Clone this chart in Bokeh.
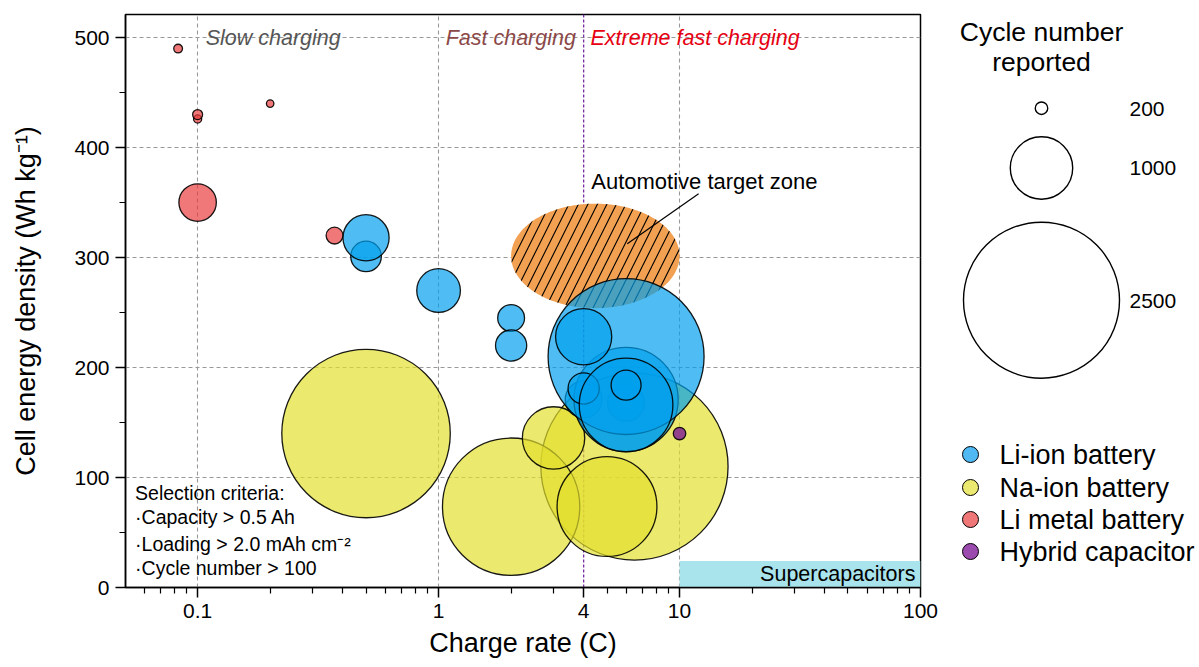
import numpy as np
from bokeh.plotting import figure
from bokeh.layouts import row
from bokeh.models import (Range1d, FixedTicker, CustomJSTickFormatter, Label, Span,
                          ColumnDataSource)
from bokeh.embed import file_html
from bokeh.resources import INLINE

FONT = "Liberation Sans"

# ---------------- data (charge rate C, energy Wh/kg, cycles reported) ----------------
li_ion_rate   = [0.5, 0.5, 1.0, 2.0, 2.0, 4.0, 6.0, 6.0, 6.0, 4.0, 4.0, 6.0, 6.0]
li_ion_energy = [301, 318, 270, 245, 220, 171, 168, 171, 210, 228, 181, 166, 184]
li_ion_cycles = [490, 740, 700, 430, 500, 590, 590, 1670, 2500, 900, 500, 1500, 480]

na_ion_rate   = [6.5, 2.0, 0.5, 3.0, 5.0]
na_ion_energy = [110, 73.5, 140, 136, 73.6]
na_ion_cycles = [3000, 2200, 2700, 1000, 1600]

li_metal_rate   = [0.083, 0.1, 0.1, 0.2, 0.1, 0.37]
li_metal_energy = [490, 426, 430, 440, 350, 320]
li_metal_cycles = [140, 130, 160, 120, 600, 270]

hybrid_rate   = [10.0]
hybrid_energy = [140]
hybrid_cycles = [200]

size_legend_cycles = [200, 1000, 2500]
size_legend_labels = ["200", "1000", "2500"]
category_names = ["Li-ion battery", "Na-ion battery", "Li metal battery", "Hybrid capacitor"]

x_major_ticks = [0.1, 1, 4, 10, 100]
x_minor_ticks = [0.06, 0.07, 0.08, 0.09, 0.2, 0.3, 0.4, 0.5, 0.6, 0.7, 0.8, 0.9,
                 2, 3, 5, 6, 7, 8, 9, 20, 30, 40, 50, 60, 70, 80, 90]
x_grid_ticks = [0.1, 1, 10]
y_major_ticks = [0, 100, 200, 300, 400, 500]
y_minor_ticks = [50, 150, 250, 350, 450]
y_grid_ticks = [100, 200, 300, 400, 500]

fast_limit_rate = 4
target_rate = [2, 10]
target_energy = [254, 349]
supercap_rate = [10, 100]
supercap_energy = [0, 24]

regime_labels = ["Slow charging", "Fast charging", "Extreme fast charging"]
criteria_lines = ["Selection criteria:", "\u00b7Capacity > 0.5 Ah",
                  "\u00b7Loading > 2.0 mAh cm\u207b\u00b2", "\u00b7Cycle number > 100"]

PX_PER_CYCLE = 78.0 / 2500.0   # bubble radius (px) per reported cycle

LI_ION, NA_ION, LI_METAL, HYBRID = "#00a0ee", "#e2df2d", "#e93b3b", "#8e3a8c"
LEG_COLORS = ["#50b9f3", "#ebe970", "#f07777", "#9b4aad"]

W = 1197
H = 665
FRAME_TOP, FRAME_BOTTOM = 14, 587
W1 = 940

# ---------------- main figure ----------------
p = figure(width=W1, height=H, x_axis_type="log",
           x_range=Range1d(0.0502, 100), y_range=Range1d(0, 521),
           output_backend="svg", toolbar_location=None, title=None,
           min_border_left=125, min_border_right=20, min_border_top=FRAME_TOP,
           min_border_bottom=H - FRAME_BOTTOM)
p.background_fill_color = "white"
p.border_fill_color = "white"
p.outline_line_color = "black"
p.outline_line_width = 1.5
p.outline_line_alpha = 1.0

p.xaxis.ticker = FixedTicker(ticks=x_major_ticks, minor_ticks=x_minor_ticks)
p.xaxis.formatter = CustomJSTickFormatter(code="return tick.toString();")
p.yaxis.ticker = FixedTicker(ticks=y_major_ticks, minor_ticks=y_minor_ticks)
for ax in (p.xaxis[0], p.yaxis[0]):
    ax.axis_line_color = "black"
    ax.axis_line_width = 1.5
    ax.major_tick_line_color = "black"
    ax.major_tick_line_width = 1.5
    ax.minor_tick_line_color = "black"
    ax.minor_tick_line_width = 1.2
    ax.major_tick_out = 10
    ax.major_tick_in = 0
    ax.minor_tick_out = 6
    ax.minor_tick_in = 0
    ax.major_label_text_font = FONT
    ax.major_label_text_font_size = "21px"
    ax.major_label_text_color = "black"
    ax.major_label_standoff = 6
    ax.axis_label_text_font = FONT
    ax.axis_label_text_font_size = "27px"
    ax.axis_label_text_font_style = "normal"
    ax.axis_label_text_color = "black"

p.xaxis.axis_label = "Charge rate (C)"
p.xaxis.axis_label_standoff = 7
p.yaxis.axis_label = "Cell energy density (Wh kg\u207b\u00b9)"
p.yaxis.axis_label_standoff = 30

p.xgrid.ticker = FixedTicker(ticks=x_grid_ticks)
p.ygrid.ticker = FixedTicker(ticks=y_grid_ticks)
for g in (p.xgrid[0], p.ygrid[0]):
    g.grid_line_color = "#999999"
    g.grid_line_dash = "4 3"
    g.grid_line_width = 1.1

# supercapacitor band
p.quad(left=[supercap_rate[0]], right=[supercap_rate[1]],
       bottom=[supercap_energy[0]], top=[supercap_energy[1]],
       fill_color="#a9e3eb", line_color=None)

# 4C boundary
p.add_layout(Span(location=fast_limit_rate, dimension="height", line_color="#7a2ea6",
                  line_dash="3 2", line_width=1.3, level="underlay"))

# automotive target zone (ellipse in log-x space)
lc = (np.log10(target_rate[0]) + np.log10(target_rate[1])) / 2
la = (np.log10(target_rate[1]) - np.log10(target_rate[0])) / 2
yc = (target_energy[0] + target_energy[1]) / 2
yb = (target_energy[1] - target_energy[0]) / 2
t = np.linspace(0, 2 * np.pi, 240)
p.patch(x=10 ** (lc + la * np.cos(t)), y=yc + yb * np.sin(t),
        fill_color="#f2a052", line_color=None,
        hatch_pattern="/", hatch_color="black", hatch_weight=1.1, hatch_scale=19)

def bubbles(rate, energy, cycles, color, alpha=0.69):
    src = ColumnDataSource(dict(x=rate, y=energy,
                                s=[2 * PX_PER_CYCLE * c for c in cycles]))
    p.scatter(x="x", y="y", size="s", source=src, marker="circle",
              fill_color=color, fill_alpha=alpha,
              line_color="black", line_width=1.3, line_alpha=0.9)

bubbles(na_ion_rate, na_ion_energy, na_ion_cycles, NA_ION)
bubbles(li_metal_rate, li_metal_energy, li_metal_cycles, LI_METAL)
bubbles(li_ion_rate, li_ion_energy, li_ion_cycles, LI_ION)
bubbles(hybrid_rate, hybrid_energy, hybrid_cycles, HYBRID, alpha=0.95)

# annotation pointer
p.segment(x0=[12.0], y0=[358], x1=[6.07], y1=[312.5], line_color="black", line_width=1.2)

def lab(x, y, text, size, color="black", align="left", style="normal"):
    p.add_layout(Label(x=x, y=y, text=text,
                       text_font=FONT, text_font_size=size, text_color=color,
                       text_align=align, text_baseline="middle",
                       text_font_style=style))

lab(0.108, 499.8, regime_labels[0], "21.5px", "#555555", style="italic")
lab(1.07, 499.8, regime_labels[1], "21.5px", "#8b4848", style="italic")
lab(4.27, 499.8, regime_labels[2], "21.5px", "#e60012", style="italic")
lab(4.30, 369.1, "Automotive target zone", "22px")
lab(95.3, 11.9, "Supercapacitors", "21.5px", align="right")
for txt, yy in zip(criteria_lines, [86.1, 64.5, 40.0, 17.9]):
    lab(0.0550, yy, txt, "19.5px")

# ---------------- legend figure (coordinates = page pixels) ----------------
LW = W - W1
lg = figure(width=LW, height=H, x_range=Range1d(0, LW),
            y_range=Range1d(FRAME_BOTTOM, FRAME_TOP),
            output_backend="svg", toolbar_location=None, title=None,
            x_axis_location=None, y_axis_location=None,
            min_border_left=0, min_border_right=0,
            min_border_top=FRAME_TOP, min_border_bottom=H - FRAME_BOTTOM)
lg.xgrid.visible = False
lg.ygrid.visible = False
lg.outline_line_color = None
lg.background_fill_color = "white"
lg.border_fill_color = "white"

def llab(x, y, text, size, align="left"):
    lg.add_layout(Label(x=x, y=y, text=text, text_font=FONT, text_font_size=size,
                        text_color="black", text_align=align, text_baseline="middle"))

llab(101, 31, "Cycle number", "26.5px", align="center")
llab(101, 61, "reported", "26.5px", align="center")

lg.scatter(x=[101] * 3, y=[107.7, 167.5, 299.7],
           size=[2 * PX_PER_CYCLE * c for c in size_legend_cycles],
           marker="circle", fill_color=None, line_color="black", line_width=1.4)
for txt, yy in zip(size_legend_labels, [108, 167.5, 300]):
    llab(189, yy, txt, "21px")

cat_y = [454, 487, 519, 551]
lg.scatter(x=[30] * 4, y=cat_y, size=16, marker="circle",
           fill_color=LEG_COLORS, line_color="black", line_width=1.0)
for txt, yy in zip(category_names, cat_y):
    llab(59, yy, txt, "27px")

layout = row(p, lg)
open("out.html", "w").write(file_html(layout, INLINE))
